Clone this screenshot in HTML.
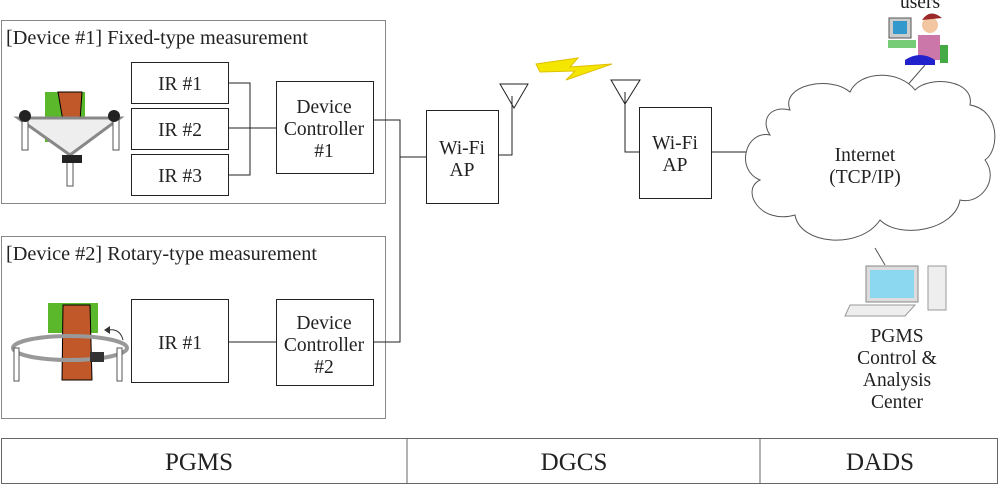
<!DOCTYPE html>
<html><head><meta charset="utf-8"><style>
html,body{margin:0;padding:0;background:#fff;}
svg{display:block;}
text{font-family:"Liberation Serif",serif;fill:#222;}
</style></head><body>
<svg width="1000" height="485" viewBox="0 0 1000 485" xmlns="http://www.w3.org/2000/svg">
<g fill="none" stroke="#888" stroke-width="1">
<rect x="1.5" y="20.5" width="384" height="183"/>
<rect x="1.5" y="236.5" width="384" height="182"/>
</g>
<g fill="#fff" stroke="#222" stroke-width="1">
<rect x="131.5" y="62.5" width="97" height="41"/>
<rect x="131.5" y="108.5" width="97" height="41"/>
<rect x="131.5" y="154.5" width="97" height="41"/>
<rect x="276.5" y="81.5" width="97" height="92"/>
<rect x="131.5" y="299.5" width="97" height="83"/>
<rect x="276.5" y="299.5" width="97" height="86"/>
<rect x="426.5" y="110.5" width="72" height="93"/>
<rect x="639.5" y="107.5" width="72" height="91"/>
</g>
<g fill="none" stroke="#222" stroke-width="1">
<path d="M228 83H250V175H228M228 128H276"/>
<path d="M373 120H400V342H373M400 157H426"/>
<path d="M228 342H276"/>
<path d="M498 155H512V96"/>
<path d="M639 152H625V92"/>
<path d="M711 152H760"/>
<path d="M500 84H528L514 108Z"/>
<path d="M611 80H640L625 104Z"/>
<path d="M925 65L905 88M875 248L885 265" stroke="#555"/>
</g>
<polygon points="536,64 578,58 570,67 612,64 566,80 575,71 540,72" fill="#f5e600" stroke="#e0c000"/>
<path d="M790 110 C780 85,830 75,850 92 C860 70,900 70,915 90 C930 75,975 80,970 105 C1000 110,1000 150,985 160 C1000 180,980 205,960 200 C955 230,900 240,880 220 C860 250,800 245,795 215 C760 225,740 190,760 180 C735 170,745 130,770 135 C760 120,770 105,790 110 Z" fill="#fff" stroke="#555"/>
<rect x="45" y="92" width="40" height="50" fill="#5ab82a"/>
<path d="M58 92H82L78 150H68Z" fill="#c0582a" stroke="#000"/>
<path d="M18 118H120L70 155Z" fill="#eee" stroke="#888" stroke-width="3"/>
<rect x="22" y="118" width="6" height="32" fill="#fff" stroke="#555"/>
<rect x="113" y="118" width="6" height="32" fill="#fff" stroke="#555"/>
<rect x="67" y="158" width="6" height="28" fill="#fff" stroke="#555"/>
<circle cx="25" cy="116" r="6" fill="#222"/><circle cx="114" cy="116" r="6" fill="#222"/><rect x="62" y="155" width="20" height="8" fill="#222"/>
<rect x="48" y="303" width="50" height="30" fill="#5ab82a"/>
<path d="M63 305H90L92 380H62Z" fill="#c0582a" stroke="#000"/>
<ellipse cx="70" cy="348" rx="57" ry="12" fill="none" stroke="#999" stroke-width="4"/>
<rect x="14" y="348" width="5" height="33" fill="#fff" stroke="#555"/>
<rect x="117" y="348" width="5" height="33" fill="#fff" stroke="#555"/>
<rect x="90" y="352" width="14" height="10" fill="#333"/>
<path d="M123 340 Q120 328 108 330" fill="none" stroke="#333"/>
<polygon points="104,330 110,326 110,334" fill="#333"/>
<rect x="889" y="18" width="22" height="20" fill="#ccc" stroke="#555"/><rect x="893" y="21" width="14" height="13" fill="#39c"/>
<rect x="888" y="40" width="28" height="8" fill="#7c7"/>
<circle cx="930" cy="25" r="8" fill="#f2c6a0"/><path d="M922 20 Q930 8 942 18" fill="#9a2a2a"/>
<path d="M918 35 H940 V60 H918Z" fill="#c7a"/><rect x="940" y="45" width="8" height="18" fill="#4a4"/>
<path d="M905 60 Q920 50 935 60 V65 H905Z" fill="#22c"/>
<rect x="866" y="266" width="52" height="36" fill="#ddd" stroke="#888"/><rect x="870" y="270" width="44" height="28" fill="#8cd8f0"/>
<rect x="928" y="266" width="18" height="44" fill="#eee" stroke="#999"/>
<path d="M850 305 H915 L905 316 H845Z" fill="#eee" stroke="#999"/>
<g fill="none" stroke="#666"><rect x="1.5" y="438.5" width="996" height="45"/><path d="M407 438V484M760 438V484"/></g>
<g font-size="19.5">
<text x="6" y="44" textLength="302" lengthAdjust="spacingAndGlyphs">[Device #1] Fixed-type measurement</text>
<text x="6" y="260" textLength="311" lengthAdjust="spacingAndGlyphs">[Device #2] Rotary-type measurement</text>
<g text-anchor="middle">
<text x="180" y="90">IR #1</text><text x="180" y="136">IR #2</text><text x="180" y="182">IR #3</text>
<text x="180" y="349">IR #1</text>
<text x="324" y="113">Device</text><text x="324" y="135">Controller</text><text x="324" y="157">#1</text>
<text x="324" y="329">Device</text><text x="324" y="351">Controller</text><text x="324" y="373">#2</text>
<text x="462" y="154">Wi-Fi</text><text x="462" y="176">AP</text>
<text x="675" y="149">Wi-Fi</text><text x="675" y="171">AP</text>
<text x="865" y="161">Internet</text><text x="865" y="183">(TCP/IP)</text>
<text x="920" y="8">users</text>
<text x="897" y="342">PGMS</text><text x="897" y="364">Control &amp;</text><text x="897" y="386">Analysis</text><text x="897" y="408">Center</text>
</g>
<g text-anchor="middle" font-size="25">
<text x="199" y="470">PGMS</text><text x="574" y="470">DGCS</text><text x="880" y="470">DADS</text>
</g>
</g>
</svg>
</body></html>
